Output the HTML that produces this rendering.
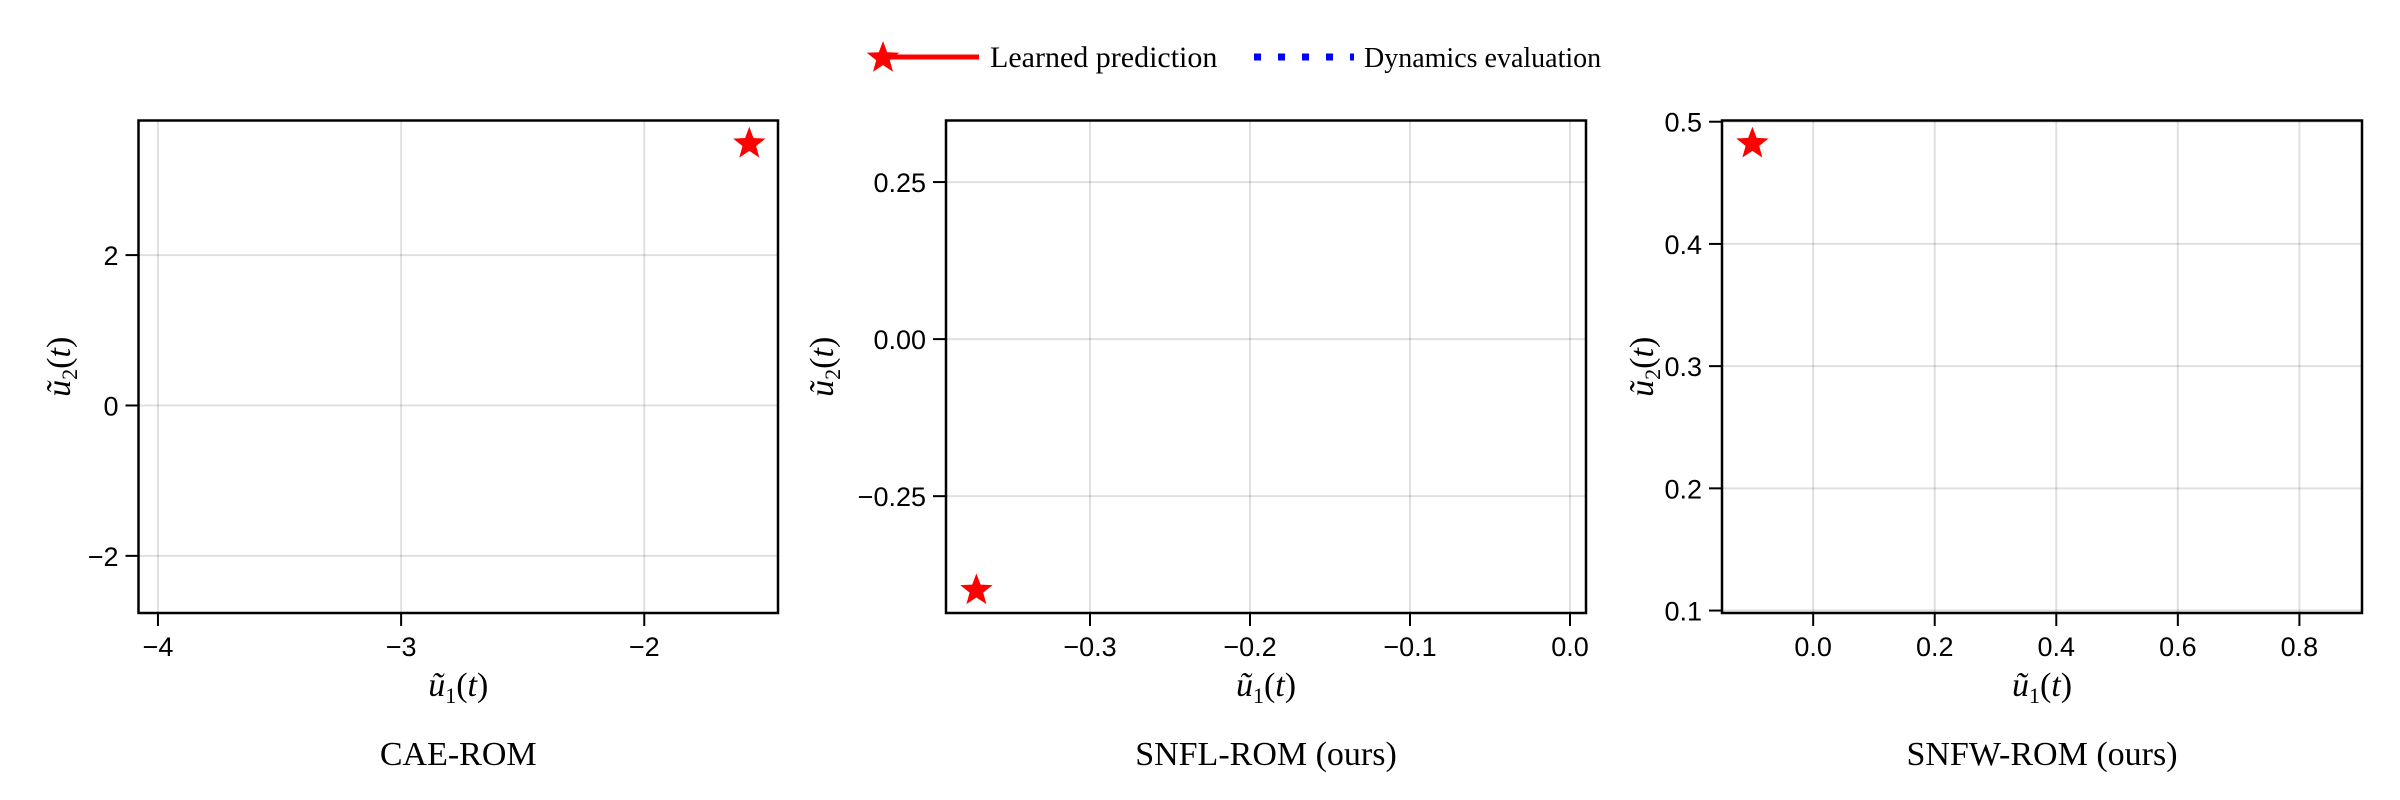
<!DOCTYPE html>
<html><head><meta charset="utf-8"><style>
html,body{margin:0;padding:0;background:#fff;}
svg{display:block;}
.tick{font-family:"Liberation Sans",sans-serif;font-size:27px;fill:#000;}
.serif{font-family:"Liberation Serif",serif;fill:#000;}
</style></head><body>
<svg id="fig" width="2400" height="800" viewBox="0 0 2400 800" xmlns="http://www.w3.org/2000/svg">
<g>
  <line x1="883" y1="57" x2="979" y2="57" stroke="#f00" stroke-width="5"/>
  <polygon id="legstar" fill="#f00"/>
  <text class="serif" x="990" y="67" font-size="30">Learned prediction</text>
  <line x1="1254" y1="57" x2="1354" y2="57" stroke="#00f" stroke-width="7" stroke-dasharray="7,17"/>
  <text class="serif" x="1364" y="67" font-size="28">Dynamics evaluation</text>
</g>
</svg>
<script>
// Panel data
const titles = ["CAE-ROM", "SNFL-ROM (ours)", "SNFW-ROM (ours)"];
const xTicks0 = [-4, -3, -2];
const xTicks1 = [-0.3, -0.2, -0.1, 0.0];
const xTicks2 = [0.0, 0.2, 0.4, 0.6, 0.8];
const xTickLabels0 = ["−4", "−3", "−2"];
const xTickLabels1 = ["−0.3", "−0.2", "−0.1", "0.0"];
const xTickLabels2 = ["0.0", "0.2", "0.4", "0.6", "0.8"];
const yTicks0 = [-2, 0, 2];
const yTicks1 = [-0.25, 0.0, 0.25];
const yTicks2 = [0.1, 0.2, 0.3, 0.4, 0.5];
const yTickLabels0 = ["−2", "0", "2"];
const yTickLabels1 = ["−0.25", "0.00", "0.25"];
const yTickLabels2 = ["0.1", "0.2", "0.3", "0.4", "0.5"];
const xRanges = [[-4.08, -1.45], [-0.39, 0.01], [-0.15, 0.903]];
const yRanges = [[-2.76, 3.79], [-0.436, 0.348], [0.098, 0.501]];
const predX = [-1.568, -0.371, -0.100];
const predY = [3.48, -0.40, 0.482];

const NS = "http://www.w3.org/2000/svg";
const svg = document.getElementById("fig");
const boxes = [[138.5, 778], [946, 1586], [1722, 2362]];
const TOP = 120.5, BOT = 613;
const xt = [xTicks0, xTicks1, xTicks2], xtl = [xTickLabels0, xTickLabels1, xTickLabels2];
const yt = [yTicks0, yTicks1, yTicks2], ytl = [yTickLabels0, yTickLabels1, yTickLabels2];

function mk(tag, attrs, parent) {
  const e = document.createElementNS(NS, tag);
  for (const k in attrs) e.setAttribute(k, attrs[k]);
  (parent || svg).appendChild(e);
  return e;
}
function starPts(cx, cy, R) {
  const r = R * 0.42, p = [];
  for (let i = 0; i < 10; i++) {
    const a = -Math.PI / 2 + i * Math.PI / 5, rr = i % 2 ? r : R;
    p.push((cx + rr * Math.cos(a)).toFixed(1) + "," + (cy + rr * Math.sin(a)).toFixed(1));
  }
  return p.join(" ");
}
document.getElementById("legstar").setAttribute("points", starPts(883, 58, 17));

function addLabel(g, x, y, sub) {
  const t = mk("text", {class: "serif", x: x, y: y, "font-size": 34, "text-anchor": "middle"}, g);
  const a = mk("tspan", {"font-style": "italic"}, t); a.textContent = "ũ";
  const b = mk("tspan", {"font-size": 22, dy: 7}, t); b.textContent = sub;
  const c = mk("tspan", {dy: -7}, t); c.textContent = "(";
  const d = mk("tspan", {"font-style": "italic"}, t); d.textContent = "t";
  const e = mk("tspan", {}, t); e.textContent = ")";
  return t;
}

for (let p = 0; p < 3; p++) {
  const [L, R] = boxes[p];
  const [x0, x1] = xRanges[p], [y0, y1] = yRanges[p];
  const sx = v => L + (v - x0) / (x1 - x0) * (R - L);
  const sy = v => BOT - (v - y0) / (y1 - y0) * (BOT - TOP);
  const g = mk("g", {});
  
  
  xt[p].forEach((v, i) => {
    const X = sx(v);
    const gl = mk("line", {x1: X, x2: X, y1: TOP, y2: BOT, stroke: "#000", "stroke-opacity": 0.12, "stroke-width": 2}, g);
    
    
    mk("line", {x1: X, x2: X, y1: BOT, y2: BOT + 13, stroke: "#000", "stroke-width": 2}, g);
    const t = mk("text", {class: "tick", x: X, y: BOT + 43, "text-anchor": "middle"}, g);
    
    
    t.textContent = xtl[p][i];
  });
  yt[p].forEach((v, i) => {
    const Y = sy(v);
    const gl = mk("line", {x1: L, x2: R, y1: Y, y2: Y, stroke: "#000", "stroke-opacity": 0.12, "stroke-width": 2}, g);
    
    
    mk("line", {x1: L - 13, x2: L, y1: Y, y2: Y, stroke: "#000", "stroke-width": 2}, g);
    const t = mk("text", {class: "tick", x: L - 20, y: Y + 10, "text-anchor": "end"}, g);
    
    
    t.textContent = ytl[p][i];
  });
  const fr = mk("rect", {x: L, y: TOP, width: R - L, height: BOT - TOP, fill: "none", stroke: "#000", "stroke-width": 2.5}, g);
  
  
  const st = mk("polygon", {points: starPts(sx(predX[p]), sy(predY[p]), 17), fill: "#f00"}, g);
  
  
  const cx = (L + R) / 2;
  const xl = addLabel(g, cx, 696, "1");
  
  
  const yx = [70, 833, 1653][p];
  const yy = (TOP + BOT) / 2;
  const ylab = addLabel(g, yx, yy, "2");
  ylab.setAttribute("transform", "rotate(-90 " + yx + " " + yy + ")");
  
  
  const ti = mk("text", {class: "serif", x: cx, y: 765, "font-size": 34, "text-anchor": "middle"}, g);
  
  
  ti.textContent = titles[p];
}
</script>
</body></html>
